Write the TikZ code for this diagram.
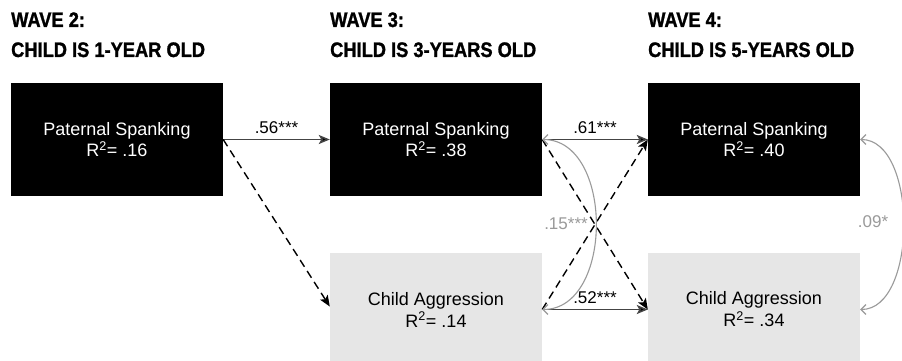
\documentclass[tikz,border=0pt]{standalone}
\usepackage{fontspec}
\setmainfont{Liberation Sans}
\newfontfamily\hdrfont[FakeStretch=0.87,BoldFeatures={FakeBold=1.2}]{Liberation Sans}
\usetikzlibrary{arrows.meta}
\definecolor{lightbox}{HTML}{E6E6E6}
\definecolor{corrgray}{HTML}{9A9A9A}
\definecolor{pathgray}{HTML}{444444}
\begin{document}
\begin{tikzpicture}[x=1pt,y=-1pt,
  topbox/.style={fill=black,text=white,minimum width=212pt,minimum height=113pt,inner sep=0pt,align=center,font=\fontsize{18}{21}\selectfont},
  botbox/.style={fill=lightbox,text=black,minimum width=212pt,minimum height=113pt,inner sep=0pt,align=center,font=\fontsize{18}{22}\selectfont},
  hdr/.style={anchor=base west,inner sep=0pt,font=\hdrfont\bfseries\fontsize{21}{24}\selectfont},
  coef/.style={font=\fontsize{17}{20}\selectfont,inner sep=0pt},
  solidarrow/.style={draw=pathgray,line width=1.5pt,-{Stealth[length=11pt,width=9pt,inset=2.5pt,fill=black]}},
  dasharrow/.style={draw=black,line width=1.4pt,dash pattern=on 8pt off 5pt,-{Stealth[length=11pt,width=9pt,inset=2.5pt,fill=black]}},
  corrarrow/.style={draw=corrgray,line width=1.1pt,{Straight Barb[length=5pt,width=10pt]}-{Straight Barb[length=5pt,width=10pt]}}
]
\clip (0,0) rectangle (902,361);
\fill[white] (0,0) rectangle (902,361);

% headers
\node[hdr] (h2a) at (11,27) {WAVE 2:};
\node[hdr] (h2b) at (11,57) {CHILD IS 1-YEAR OLD};
\node[hdr] (h3a) at (330,27) {WAVE 3:};
\node[hdr] (h3b) at (330,57) {CHILD IS 3-YEARS OLD};
\node[hdr] (h4a) at (648,27) {WAVE 4:};
\node[hdr] (h4b) at (648,57) {CHILD IS 5-YEARS OLD};

% boxes
\node[topbox] (b1) at (117,139.5) {Paternal Spanking\\R\textsuperscript{2}= .16};
\node[topbox] (b2) at (436,139.5) {Paternal Spanking\\R\textsuperscript{2}= .38};
\node[topbox] (b3) at (754,139.5) {Paternal Spanking\\R\textsuperscript{2}= .40};
\node[botbox] (c2) at (436,309.5) {Child Aggression\\R\textsuperscript{2}= .14};
\node[botbox] (c3) at (754,309.5) {Child Aggression\\R\textsuperscript{2}= .34};

% paths
\draw[solidarrow] (b1.east) -- node[coef,midway,anchor=south,yshift=5pt] (l56) {.56***} (b2.west);
\draw[dasharrow] (b1.east) -- ([yshift=3pt]c2.west);
\draw[solidarrow] (b2.east) -- node[coef,midway,anchor=south,yshift=5pt] (l61) {.61***} (b3.west);
\draw[solidarrow] (c2.east) -- node[coef,midway,anchor=south,yshift=5pt] (l52) {.52***} (c3.west);
\draw[dasharrow] (b2.east) -- (c3.west);
\draw[dasharrow] (c2.east) -- (b3.west);

% correlations
\draw[corrarrow] (b2.east) .. controls (614,139.5) and (614,309.5) .. (c2.east);
\node[coef,text=corrgray] (l15) at (566,224) {.15***};
\draw[corrarrow] (b3.east) .. controls (918,139.5) and (918,309.5) .. (c3.east);
\node[coef,text=corrgray] (l09) at (873,222) {.09*};
\end{tikzpicture}
\end{document}
